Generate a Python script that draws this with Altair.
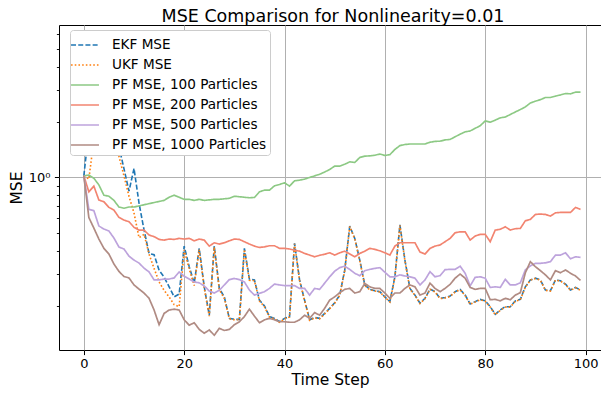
import altair as alt
import pandas as pd

steps = list(range(100))

series_names = ["EKF MSE", "UKF MSE", "PF MSE, 100 Particles", "PF MSE, 200 Particles",
                "PF MSE, 500 Particles", "PF MSE, 1000 Particles"]

ekf = [1.02, 1.8, 3.2, 4.8, 5.6, 4.4, 2.8, 1.47, 1.117, 0.842,
       1.12, 0.725, 0.518, 0.386, 0.38, 0.313, 0.287, 0.254, 0.224, 0.232,
       0.423, 0.327, 0.266, 0.411, 0.254, 0.178, 0.423, 0.249, 0.224, 0.171,
       0.169, 0.169, 0.411, 0.28, 0.277, 0.215, 0.2, 0.175, 0.171, 0.164,
       0.171, 0.175, 0.438, 0.277, 0.215, 0.168, 0.173, 0.171, 0.182, 0.194,
       0.208, 0.229, 0.313, 0.543, 0.466, 0.355, 0.26, 0.246, 0.242, 0.239,
       0.224, 0.211, 0.288, 0.552, 0.355, 0.249, 0.229, 0.207, 0.22, 0.247,
       0.239, 0.22, 0.222, 0.226, 0.239, 0.246, 0.229, 0.205, 0.211, 0.217,
       0.213, 0.198, 0.18, 0.19, 0.198, 0.198, 0.213, 0.217, 0.254, 0.277,
       0.283, 0.277, 0.244, 0.242, 0.277, 0.274, 0.263, 0.244, 0.252, 0.244]

ukf = [1.02, 0.98, 1.6, 3.0, 4.6, 5.2, 3.0, 1.3, 1.02, 0.79,
       0.64, 0.47, 0.49, 0.383, 0.32, 0.27, 0.243, 0.224, 0.203, 0.198,
       0.403, 0.318, 0.258, 0.405, 0.25, 0.176, 0.418, 0.245, 0.22, 0.17,
       0.168, 0.168, 0.405, 0.276, 0.274, 0.213, 0.198, 0.174, 0.17, 0.163,
       0.17, 0.174, 0.435, 0.275, 0.213, 0.167, 0.172, 0.17, 0.181, 0.193,
       0.207, 0.228, 0.31, 0.54, 0.463, 0.352, 0.258, 0.245, 0.241, 0.238,
       0.223, 0.21, 0.286, 0.548, 0.352, 0.247, 0.228, 0.206, 0.219, 0.246,
       0.238, 0.219, 0.221, 0.225, 0.238, 0.245, 0.228, 0.204, 0.21, 0.216,
       0.212, 0.197, 0.179, 0.189, 0.197, 0.197, 0.212, 0.216, 0.253, 0.276,
       0.282, 0.276, 0.243, 0.241, 0.276, 0.273, 0.262, 0.243, 0.251, 0.243]

pf100 = [1.02, 1.03, 0.99, 0.91, 0.80, 0.79, 0.75, 0.69, 0.68, 0.69,
         0.69, 0.70, 0.71, 0.72, 0.73, 0.74, 0.75, 0.78, 0.80, 0.78,
         0.76, 0.76, 0.75, 0.76, 0.75, 0.755, 0.76, 0.76, 0.765, 0.77,
         0.79, 0.785, 0.78, 0.775, 0.778, 0.835, 0.853, 0.853, 0.90, 0.916,
         0.935, 0.897, 0.958, 0.967, 0.979, 1.0, 1.02, 1.04, 1.07, 1.105,
         1.152, 1.152, 1.18, 1.215, 1.206, 1.284, 1.305, 1.31, 1.32, 1.34,
         1.317, 1.33, 1.42, 1.49, 1.51, 1.52, 1.52, 1.52, 1.52, 1.555,
         1.57, 1.575, 1.6, 1.61, 1.663, 1.72, 1.77, 1.79, 1.85, 1.91,
         2.03, 1.997, 2.05, 2.11, 2.13, 2.2, 2.27, 2.34, 2.42, 2.54,
         2.6, 2.65, 2.72, 2.72, 2.77, 2.81, 2.86, 2.85, 2.91, 2.91]

pf200 = [1.02, 0.835, 0.897, 0.753, 0.737, 0.687, 0.664, 0.606, 0.586, 0.574,
         0.535, 0.517, 0.517, 0.486, 0.476, 0.46, 0.456, 0.462, 0.46, 0.466,
         0.462, 0.466, 0.452, 0.462, 0.456, 0.423, 0.441, 0.434, 0.441, 0.452,
         0.462, 0.46, 0.447, 0.434, 0.423, 0.416, 0.419, 0.425, 0.425, 0.411,
         0.411, 0.408, 0.402, 0.397, 0.386, 0.378, 0.37, 0.377, 0.382, 0.389,
         0.378, 0.389, 0.397, 0.383, 0.37, 0.386, 0.397, 0.411, 0.406, 0.399,
         0.389, 0.378, 0.423, 0.441, 0.441, 0.441, 0.441, 0.393, 0.383, 0.411,
         0.423, 0.429, 0.447, 0.466, 0.50, 0.506, 0.506, 0.456, 0.48, 0.49,
         0.49, 0.447, 0.517, 0.522, 0.539, 0.517, 0.526, 0.528, 0.581, 0.591,
         0.629, 0.632, 0.629, 0.616, 0.642, 0.645, 0.645, 0.645, 0.687, 0.67]

pf500 = [1.02, 0.670, 0.660, 0.544, 0.524, 0.511, 0.468, 0.418, 0.408, 0.373,
         0.355, 0.342, 0.321, 0.306, 0.277, 0.277, 0.28, 0.28, 0.284, 0.306,
         0.29, 0.28, 0.27, 0.267, 0.257, 0.241, 0.235, 0.243, 0.26, 0.278,
         0.282, 0.278, 0.27, 0.244, 0.229, 0.234, 0.239, 0.249, 0.263, 0.26,
         0.258, 0.258, 0.258, 0.249, 0.249, 0.229, 0.249, 0.246, 0.266, 0.288,
         0.309, 0.323, 0.329, 0.316, 0.301, 0.292, 0.311, 0.316, 0.32, 0.323,
         0.305, 0.288, 0.288, 0.295, 0.291, 0.288, 0.283, 0.26, 0.277, 0.307,
         0.288, 0.292, 0.315, 0.316, 0.316, 0.329, 0.301, 0.257, 0.286, 0.288,
         0.283, 0.252, 0.254, 0.252, 0.279, 0.26, 0.26, 0.267, 0.314, 0.33,
         0.341, 0.341, 0.343, 0.348, 0.378, 0.378, 0.389, 0.361, 0.37, 0.367]

pf1000 = [1.02, 0.605, 0.53, 0.462, 0.411, 0.383, 0.338, 0.308, 0.289, 0.284,
          0.26, 0.247, 0.235, 0.22, 0.19, 0.158, 0.182, 0.19, 0.192, 0.19,
          0.168, 0.157, 0.162, 0.149, 0.142, 0.148, 0.1385, 0.151, 0.147, 0.149,
          0.158, 0.164, 0.175, 0.192, 0.176, 0.162, 0.168, 0.171, 0.168, 0.164,
          0.164, 0.163, 0.163, 0.168, 0.178, 0.171, 0.184, 0.178, 0.194, 0.215,
          0.224, 0.236, 0.246, 0.249, 0.235, 0.239, 0.265, 0.254, 0.249, 0.249,
          0.235, 0.22, 0.235, 0.235, 0.249, 0.26, 0.254, 0.229, 0.235, 0.266,
          0.249, 0.239, 0.249, 0.262, 0.283, 0.298, 0.283, 0.252, 0.246, 0.249,
          0.249, 0.216, 0.217, 0.213, 0.22, 0.216, 0.229, 0.236, 0.303, 0.348,
          0.327, 0.311, 0.295, 0.277, 0.311, 0.303, 0.314, 0.301, 0.291, 0.275]

x_ticks = [0, 20, 40, 60, 80, 100]
y_major = [1]
y_minor = [0.2, 0.3, 0.4, 0.5, 0.6, 0.7, 0.8, 0.9, 2, 3, 4, 5, 6]

colors = ["#1f77b4", "#ff7f0e", "#8cc984", "#f28470", "#bda3dc", "#b08b83"]
dashes = [[5, 2.2], [1.6, 2.1], [1, 0], [1, 0], [1, 0], [1, 0]]
widths = [1.6, 1.7, 1.9, 1.9, 1.9, 1.9]

rows = []
for name, vals in zip(series_names, [ekf, ukf, pf100, pf200, pf500, pf1000]):
    for t, v in zip(steps, vals):
        rows.append({"step": t, "mse": v, "series": name})
df = pd.DataFrame(rows)

FONT = "DejaVu Sans"
x_scale = alt.Scale(domain=[-4.95, 103.08], nice=False, zero=False)
y_scale = alt.Scale(type="log", domain=[0.1151, 6.75], nice=False)

x_axis = alt.Axis(values=x_ticks, title="Time Step", grid=True, gridColor="#b0b0b0",
                  gridWidth=1, domain=False, tickSize=4.6, tickColor="#000000",
                  tickWidth=1, labelFontSize=13, labelFont=FONT, labelColor="#000000",
                  labelPadding=3, labelFlush=False, labelOverlap=False,
                  titleFontSize=15.5, titleFont=FONT, titleFontWeight="normal",
                  titleColor="#000000", titlePadding=2, orient="bottom")

leg = alt.Legend(title=None, orient="none", legendX=11, legendY=5,
                 symbolType="M-1.27,0H1.27", symbolSize=484, symbolStrokeWidth=1.8,
                 labelFontSize=13.6, labelFont=FONT, labelColor="#000000",
                 labelLimit=400, labelOffset=15, fillColor="white",
                 strokeColor="#cccccc", cornerRadius=3, padding=3, rowPadding=1)

lines = alt.Chart(df).mark_line(clip=True).encode(
    x=alt.X("step:Q", scale=x_scale, axis=x_axis),
    y=alt.Y("mse:Q", scale=y_scale,
            axis=alt.Axis(values=y_major, orient="left", labelExpr="'10\u2070'", title="MSE",
                          grid=True, gridColor="#b0b0b0", gridWidth=1, domain=False,
                          tickSize=4.6, tickColor="#000000", tickWidth=1,
                          labelFontSize=13, labelFont=FONT, labelColor="#000000",
                          labelPadding=4.5, titleFontSize=15.5, titleFont=FONT,
                          titleFontWeight="normal", titleColor="#000000", titlePadding=3.5)),
    color=alt.Color("series:N", scale=alt.Scale(domain=series_names, range=colors), legend=leg),
    strokeDash=alt.StrokeDash("series:N", scale=alt.Scale(domain=series_names, range=dashes), legend=leg),
    strokeWidth=alt.StrokeWidth("series:N", scale=alt.Scale(domain=series_names, range=widths), legend=None),
)

minor = alt.Chart(df).mark_line(opacity=0).encode(
    x=alt.X("step:Q", scale=x_scale, axis=x_axis),
    y=alt.Y("mse:Q", scale=y_scale,
            axis=alt.Axis(values=y_minor, orient="left", labels=False, title=None, grid=False,
                          domain=False, tickSize=2.6, tickColor="#000000", tickWidth=0.9)),
    detail="series:N",
)

chart = alt.layer(lines, minor).resolve_axis(y="independent").properties(
    width=542, height=325,
    padding={"left": 59, "top": 25, "right": 0, "bottom": 44},
    autosize=alt.AutoSizeParams(type="none"),
    title=alt.TitleParams("MSE Comparison for Nonlinearity=0.01", fontSize=17.5, font=FONT,
                          fontWeight="normal", color="#000000", anchor="middle", frame="group",
                          dx=3, dy=18, offset=4, baseline="alphabetic"),
).configure(background="white").configure_view(stroke="#000000", strokeWidth=1)

chart.save("out.html", embed_options={"renderer": "svg", "actions": False})
